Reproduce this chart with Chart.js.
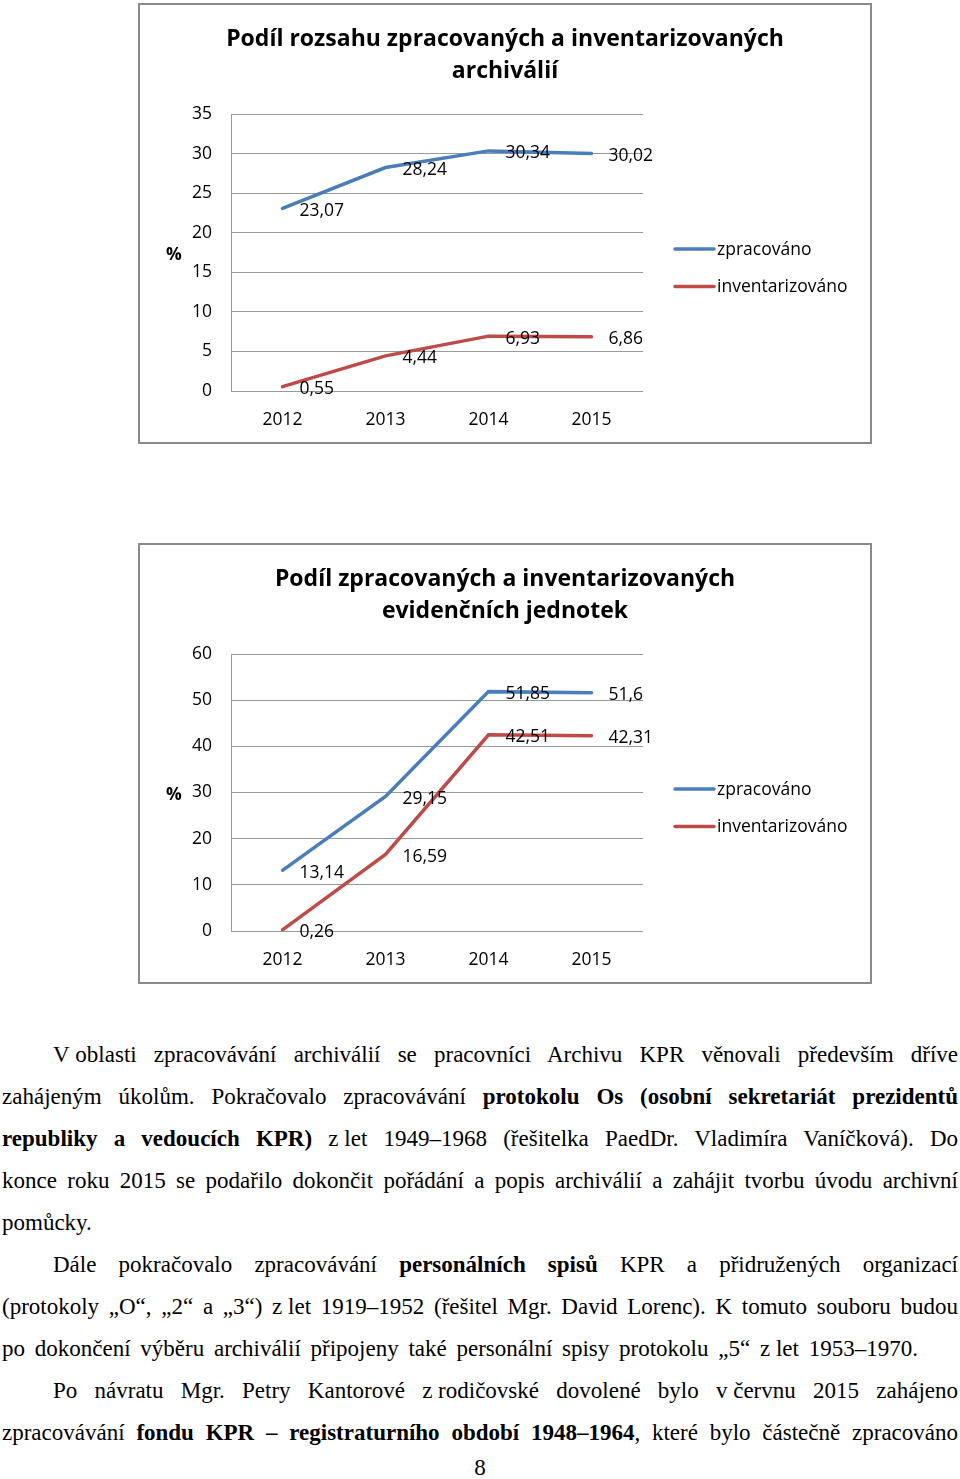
<!DOCTYPE html>
<html lang="cs">
<head>
<meta charset="utf-8">
<title>Archiv KPR – zpracování</title>
<script src="https://cdn.jsdelivr.net/npm/chart.js@4/dist/chart.umd.min.js"></script>
<style>
  body { margin: 0; background: #fff; width: 960px; height: 1479px; position: relative; overflow: hidden; }
  .box { position: absolute; left: 138px; width: 734px; height: 441px; border: 2px solid #8a8a8a; box-sizing: border-box; background: #fff; }
  .box canvas { display: block; }
  #text { position: absolute; left: 2px; top: 1034px; width: 956px; font-family: "Liberation Serif", "Times New Roman", serif; font-size: 23px; line-height: 42px; color: #000; }
  .ln { height: 42px; text-align: justify; text-align-last: justify; }
  .ln.ind { padding-left: 51px; }
  .ln.end { text-align: left; text-align-last: left; word-spacing: 4px; }
  .nb { display: inline-block; word-spacing: 0; }
  #page { position: absolute; left: 0; top: 1447px; width: 960px; text-align: center; font-family: "Liberation Serif", serif; font-size: 23px; line-height: 42px; }
</style>
</head>
<body>

<div class="box" style="top:3px"><canvas id="chartRozsah"></canvas></div>
<div class="box" style="top:543px"><canvas id="chartEj"></canvas></div>

<div id="text">
  <div class="ln ind"><span class="nb">V&nbsp;oblasti</span> zpracovávání archiválií se pracovníci Archivu KPR věnovali především dříve</div>
  <div class="ln">zahájeným úkolům. Pokračovalo zpracovávání <b>protokolu Os (osobní sekretariát prezidentů</b></div>
  <div class="ln"><b>republiky a vedoucích KPR)</b> <span class="nb">z&nbsp;let</span> 1949–1968 (řešitelka PaedDr. Vladimíra Vaníčková). Do</div>
  <div class="ln">konce roku 2015 se podařilo dokončit pořádání a popis archiválií a zahájit tvorbu úvodu archivní</div>
  <div class="ln end">pomůcky.</div>
  <div class="ln ind">Dále pokračovalo zpracovávání <b>personálních spisů</b> KPR a přidružených organizací</div>
  <div class="ln">(protokoly „O“, „2“ a „3“) <span class="nb">z&nbsp;let</span> 1919–1952 (řešitel Mgr. David Lorenc). K tomuto souboru budou</div>
  <div class="ln end">po dokončení výběru archiválií připojeny také personální spisy protokolu „5“ <span class="nb">z&nbsp;let</span> 1953–1970.</div>
  <div class="ln ind">Po návratu Mgr. Petry Kantorové <span class="nb">z&nbsp;rodičovské</span> dovolené bylo <span class="nb">v&nbsp;červnu</span> 2015 zahájeno</div>
  <div class="ln">zpracovávání <b>fondu KPR – registraturního období 1948–1964</b>, které bylo částečně zpracováno</div>
</div>
<div id="page">8</div>

<script>
const years = ["2012", "2013", "2014", "2015"];
const seriesNames = ["zpracováno", "inventarizováno"];
const seriesColors = ["#4a7ebb", "#be4b48"];

// graf 1 - rozsah archiválií (%)
const rozsahTitle = ["Podíl rozsahu zpracovaných a inventarizovaných", "archiválií"];
const rozsahZpracovano = [23.07, 28.24, 30.34, 30.02];
const rozsahInventarizovano = [0.55, 4.44, 6.93, 6.86];
const rozsahMax = 35, rozsahStep = 5;

// graf 2 - evidenční jednotky (%)
const ejTitle = ["Podíl zpracovaných a inventarizovaných", "evidenčních jednotek"];
const ejZpracovano = [13.14, 29.15, 51.85, 51.6];
const ejInventarizovano = [0.26, 16.59, 42.51, 42.31];
const ejMax = 60, ejStep = 10;

const FONT = "'Open Sans', Lato, sans-serif";

function fmt(v) {
    return String(v).replace(".", ",");
}

/* popisky hodnot, legenda a "%" */
const extras = {
    id: "extras",
    afterDatasetsDraw(chart) {
        const ctx = chart.ctx;
        const area = chart.chartArea;
        ctx.save();
        ctx.fillStyle = "#000";
        ctx.textBaseline = "middle";
        ctx.textAlign = "left";
        ctx.font = "17.5px " + FONT;

        chart.data.datasets.forEach((ds, i) => {
            chart.getDatasetMeta(i).data.forEach((pt, j) => {
                ctx.fillText(fmt(ds.data[j]), pt.x + 17, pt.y + 2.5);
            });
        });

        // legend
        chart.data.datasets.forEach((ds, i) => {
            let y = area.top + 135 + i * 37.5;
            ctx.strokeStyle = ds.borderColor;
            ctx.lineWidth = 3.5;
            ctx.lineCap = "round";
            ctx.beginPath();
            ctx.moveTo(area.right + 32, y);
            ctx.lineTo(area.right + 71, y);
            ctx.stroke();
            ctx.fillText(ds.label, area.right + 74, y + 1);
        });

        ctx.font = "bold 17.5px " + FONT;
        ctx.textAlign = "center";
        ctx.fillText("%", area.left - 57, area.top + 141);
        ctx.restore();
    }
};

function makeChart(id, title, zprac, inv, max, step) {
    return new Chart(document.getElementById(id), {
        type: "line",
        data: {
            labels: years,
            datasets: [zprac, inv].map((d, i) => ({
                label: seriesNames[i],
                data: d,
                borderColor: seriesColors[i],
                backgroundColor: seriesColors[i],
                borderWidth: 3.5,
                borderCapStyle: "round",
                pointRadius: 0,
                tension: 0
            }))
        },
        options: {
            responsive: true,
            maintainAspectRatio: false,
            devicePixelRatio: 1,
            animation: false,
            layout: { padding: 0 },
            plugins: {
                legend: { display: false },
                tooltip: { enabled: false },
                title: {
                    display: true,
                    text: title,
                    color: "#000",
                    font: { family: FONT, weight: "bold", size: 23, lineHeight: 32 / 23 },
                    padding: { top: 18, bottom: 27 }
                }
            },
            scales: {
                x: {
                    offset: true,
                    grid: { display: false, drawTicks: false },
                    border: { display: false },
                    ticks: { color: "#000", padding: 19, font: { family: FONT, size: 17.5 } },
                    afterFit: s => { s.height = 51; }
                },
                y: {
                    min: 0,
                    max: max,
                    ticks: { stepSize: step, color: "#000", padding: 19, font: { family: FONT, size: 17.5 } },
                    grid: { color: "#9a9a9a", lineWidth: 1, drawTicks: false },
                    border: { display: true, color: "#9a9a9a", width: 1 },
                    afterFit: s => { s.width = 91; }
                },
                // prazdna osa vpravo - misto pro legendu
                yRight: {
                    display: true,
                    position: "right",
                    grid: { display: false, drawTicks: false },
                    border: { display: false },
                    ticks: { display: false },
                    afterFit: s => { s.width = 227; }
                }
            }
        },
        plugins: [extras]
    });
}

makeChart("chartRozsah", rozsahTitle, rozsahZpracovano, rozsahInventarizovano, rozsahMax, rozsahStep);
makeChart("chartEj", ejTitle, ejZpracovano, ejInventarizovano, ejMax, ejStep);
</script>
</body>
</html>
